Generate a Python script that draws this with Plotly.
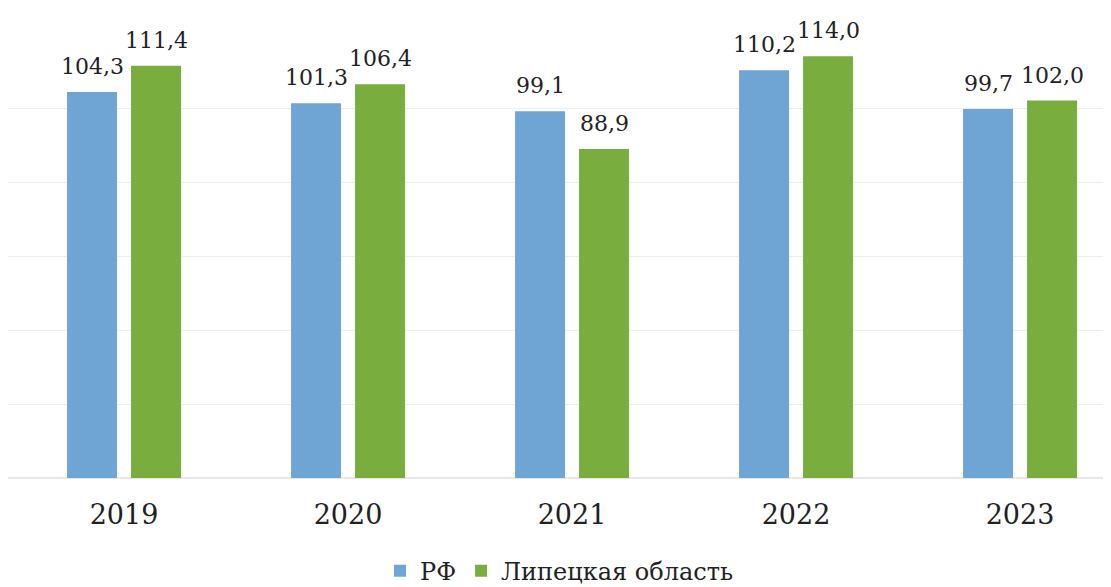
import plotly.graph_objects as go

years = ["2019", "2020", "2021", "2022", "2023"]
rf = [104.3, 101.3, 99.1, 110.2, 99.7]
lipetsk = [111.4, 106.4, 88.9, 114.0, 102.0]
rf_labels = ["104,3", "101,3", "99,1", "110,2", "99,7"]
lipetsk_labels = ["111,4", "106,4", "88,9", "114,0", "102,0"]

font_family = "DejaVu Serif"

fig = go.Figure()
fig.add_trace(go.Bar(
    x=years, y=rf, name="РФ",
    marker=dict(color="#6fa5d5", line=dict(width=0)),
))
fig.add_trace(go.Bar(
    x=years, y=lipetsk, name="Липецкая область",
    marker=dict(color="#79ad3d", line=dict(width=0)),
))

for i, (v, lab) in enumerate(zip(rf, rf_labels)):
    fig.add_annotation(x=i, y=v, text=lab, showarrow=False, xshift=-32, yshift=11,
                       yanchor="bottom", xanchor="center",
                       font=dict(family=font_family, size=22, color="#222222"))
for i, (v, lab) in enumerate(zip(lipetsk, lipetsk_labels)):
    fig.add_annotation(x=i, y=v, text=lab, showarrow=False, xshift=32, yshift=11,
                       yanchor="bottom", xanchor="center",
                       font=dict(family=font_family, size=22, color="#222222"))

fig.update_layout(
    width=1103, height=579,
    margin=dict(l=0, r=0, t=26, b=109, autoexpand=False),
    paper_bgcolor="white", plot_bgcolor="white",
    barmode="group", bargap=0.4286, bargroupgap=0.219,
    font=dict(family=font_family, color="#222222"),
    showlegend=True,
    legend=dict(orientation="h", x=0.5, xanchor="center", y=-0.21, yanchor="middle",
                font=dict(family=font_family, size=24, color="#222222"),
                itemwidth=30, traceorder="normal"),
)
fig.update_xaxes(type="category", range=[-0.518, 4.406], showgrid=False, showline=False,
                 ticks="", tickfont=dict(family=font_family, size=27, color="#222222"),
                 ticklabelstandoff=18)
fig.update_yaxes(range=[0, 120], dtick=20, showgrid=True, gridcolor="#ededed", gridwidth=1,
                 zeroline=True, zerolinecolor="#e6e6e6", showticklabels=False, showline=False)

fig.write_html("out.html")
